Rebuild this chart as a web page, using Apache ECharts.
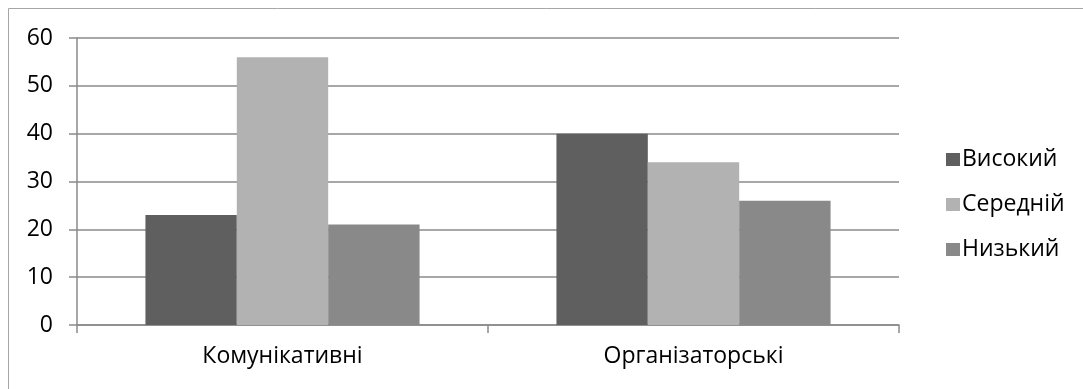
<!DOCTYPE html>
<html>
<head>
<meta charset="utf-8">
<script src="https://cdn.jsdelivr.net/npm/echarts@6/dist/echarts.min.js"></script>
<style>
  html, body { margin: 0; padding: 0; background: #fff; }
  #chart { width: 1083px; height: 389px; }
</style>
</head>
<body>
<div id="chart"></div>
<script>
// Skill groups along the x axis
const categories = ['Комунікативні', 'Організаторські'];
// Percentage of respondents per level
const levelNames = ['Високий', 'Середній', 'Низький'];
const highValues = [23, 40];
const midValues = [56, 34];
const lowValues = [21, 26];
const yTicks = { min: 0, max: 60, interval: 10 };

const levelColors = ['#5f5f5f', '#b2b2b2', '#898989'];
const seriesValues = [highValues, midValues, lowValues];
const FONT = 'Open Sans';
const FONT_SIZE = 23;
const AXIS_GREY = '#8a8a8a';

const chart = echarts.init(document.getElementById('chart'), null, { renderer: 'canvas' });

chart.setOption({
  animation: false,
  textStyle: { fontFamily: FONT },
  graphic: [{
    type: 'rect',
    shape: { x: 8.5, y: 8.5, width: 1200, height: 500 },
    style: { fill: 'none', stroke: '#a6a6a6', lineWidth: 1 },
    silent: true
  }],
  grid: { left: 77, right: 184, top: 38, bottom: 64, containLabel: false },
  legend: {
    orient: 'vertical',
    left: 941,
    top: 143,
    itemWidth: 14,
    itemHeight: 13,
    itemGap: 22,
    icon: 'rect',
    textStyle: { fontFamily: FONT, fontSize: FONT_SIZE, color: '#000', padding: [0, 0, 0, -3] },
    data: levelNames
  },
  xAxis: {
    type: 'category',
    data: categories,
    axisLine: { show: true, lineStyle: { color: AXIS_GREY, width: 1.5 } },
    axisTick: { show: true, length: 8, lineStyle: { color: AXIS_GREY, width: 1.5 } },
    axisLabel: { color: '#000', fontSize: FONT_SIZE, fontFamily: FONT, margin: 20 },
    splitLine: { show: false }
  },
  yAxis: {
    type: 'value',
    min: yTicks.min,
    max: yTicks.max,
    interval: yTicks.interval,
    axisLine: { show: true, lineStyle: { color: AXIS_GREY, width: 1.5 } },
    axisTick: { show: true, length: 8, lineStyle: { color: AXIS_GREY, width: 1.5 } },
    axisLabel: { color: '#000', fontSize: FONT_SIZE, fontFamily: FONT, margin: 24 },
    splitLine: { show: true, lineStyle: { color: AXIS_GREY, width: 1.5 } }
  },
  series: levelNames.map((name, i) => ({
    name,
    type: 'bar',
    data: seriesValues[i],
    barGap: '0%',
    barCategoryGap: '33.3%',
    itemStyle: { color: levelColors[i] }
  }))
});
</script>
</body>
</html>
